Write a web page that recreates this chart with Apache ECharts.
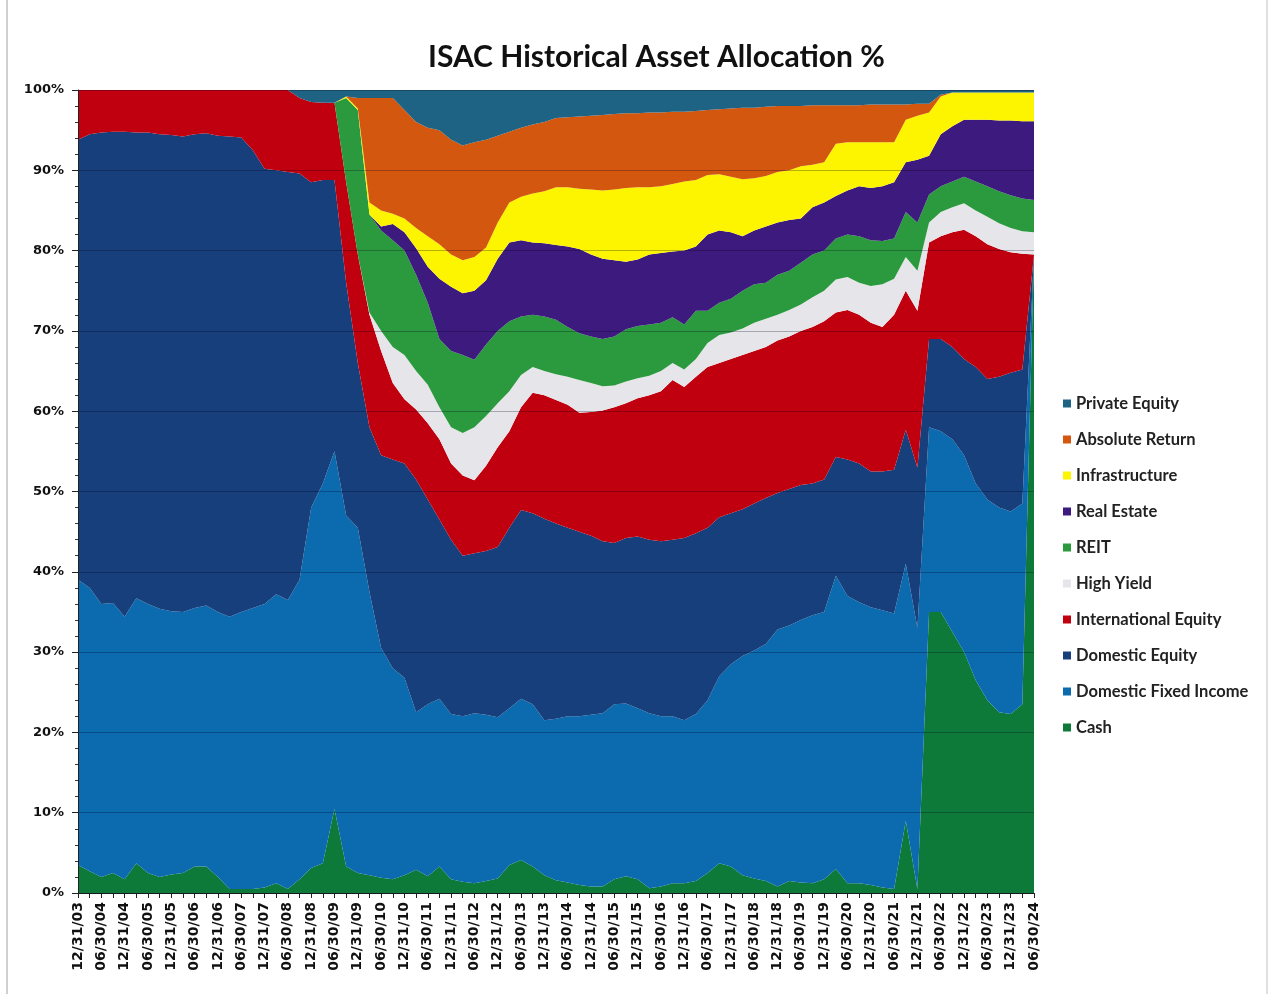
<!DOCTYPE html>
<html>
<head>
<meta charset="utf-8">
<title>ISAC Historical Asset Allocation %</title>
<script src="https://cdn.jsdelivr.net/npm/echarts@6/dist/echarts.min.js"></script>
<style>
    html, body { margin: 0; padding: 0; background: #fff; }
    #container { width: 1270px; height: 994px; }
</style>
</head>
<body>
<div id="container"></div>
<script>
// quarter ends, labels shown every 6 months
var dates = [
    '12/31/03',
    '03/31/04', '06/30/04', '09/30/04', '12/31/04',
    '03/31/05', '06/30/05', '09/30/05', '12/31/05',
    '03/31/06', '06/30/06', '09/30/06', '12/31/06',
    '03/31/07', '06/30/07', '09/30/07', '12/31/07',
    '03/31/08', '06/30/08', '09/30/08', '12/31/08',
    '03/31/09', '06/30/09', '09/30/09', '12/31/09',
    '03/31/10', '06/30/10', '09/30/10', '12/31/10',
    '03/31/11', '06/30/11', '09/30/11', '12/31/11',
    '03/31/12', '06/30/12', '09/30/12', '12/31/12',
    '03/31/13', '06/30/13', '09/30/13', '12/31/13',
    '03/31/14', '06/30/14', '09/30/14', '12/31/14',
    '03/31/15', '06/30/15', '09/30/15', '12/31/15',
    '03/31/16', '06/30/16', '09/30/16', '12/31/16',
    '03/31/17', '06/30/17', '09/30/17', '12/31/17',
    '03/31/18', '06/30/18', '09/30/18', '12/31/18',
    '03/31/19', '06/30/19', '09/30/19', '12/31/19',
    '03/31/20', '06/30/20', '09/30/20', '12/31/20',
    '03/31/21', '06/30/21', '09/30/21', '12/31/21',
    '03/31/22', '06/30/22', '09/30/22', '12/31/22',
    '03/31/23', '06/30/23', '09/30/23', '12/31/23',
    '03/31/24', '06/30/24',
]

var yTicks = [0, 10, 20, 30, 40, 50, 60, 70, 80, 90, 100]

// % of total, per quarter
var cash = [
    3.5, 2.7, 2, 2.5, 1.7, 3.7, 2.5, 2, 2.3, 2.5, 3.3, 3.3, 2, 0.5, 0.5, 0.5, 0.7, 1.2, 0.5, 1.7, 3.1, 3.7, 10.5,
    3.3, 2.5, 2.2, 1.9, 1.7, 2.2, 2.9, 2.1, 3.3, 1.7, 1.4, 1.2, 1.5, 1.8, 3.5, 4.1, 3.3, 2.2, 1.6, 1.3, 1, 0.8, 0.8, 1.7, 2.1, 1.7, 0.6, 0.8, 1.2, 1.2, 1.5,
    2.5, 3.7, 3.3, 2.2, 1.8, 1.5, 0.8, 1.5, 1.3, 1.2, 1.7, 3, 1.2, 1.2, 1, 0.7, 0.5, 9, 0.5, 35, 35, 32.5, 30, 26.5, 24, 22.5, 22.3, 23.5, 79.5,
]
var domesticFixedIncome = [
    35.5, 35.3, 34, 33.6, 32.7, 33, 33.5, 33.4, 32.8, 32.5, 32.2, 32.5, 33, 33.9, 34.5, 35, 35.3, 36, 36, 37.3, 44.9, 47.3, 44.5,
    43.7, 43, 35.3, 28.6, 26.3, 24.6, 19.6, 21.4, 20.9, 20.6, 20.6, 21.2, 20.7, 20.1, 19.5, 20.1, 20.2, 19.3, 20.1, 20.7, 21, 21.4, 21.6, 21.8, 21.5, 21.3, 21.8, 21.2, 20.8, 20.3, 20.8,
    21.5, 23.3, 25.2, 27.3, 28.4, 29.5, 32, 31.8, 32.7, 33.4, 33.3, 36.5, 35.8, 35, 34.6, 34.5, 34.3, 32, 32.5, 23, 22.5, 24, 24.5, 24.5, 25, 25.5, 25.2, 25, 0,
]
var domesticEquity = [
    54.8, 56.5, 58.7, 58.7, 60.4, 58, 58.7, 59.1, 59.3, 59.2, 59, 58.8, 59.3, 59.8, 59.1, 57, 54.2, 52.8, 53.3, 50.6, 40.5, 37.8, 33.8,
    29, 20.5, 20.5, 24, 26, 26.7, 29, 25.5, 22.3, 21.7, 20, 19.9, 20.4, 21.2, 22.5, 23.5, 23.8, 25.1, 24.3, 23.5, 23, 22.3, 21.4, 20.1, 20.6, 21.4, 21.6, 21.8, 22, 22.7, 22.5,
    21.5, 19.8, 18.8, 18.3, 18.3, 18.2, 17, 17, 16.8, 16.4, 16.5, 14.8, 17, 17.3, 16.9, 17.3, 17.9, 16.7, 20, 11, 11.5, 11.5, 12, 14.5, 15, 16.3, 17.3, 16.7, 0,
]
var internationalEquity = [
    6.2, 5.5, 5.3, 5.2, 5.2, 5.3, 5.3, 5.5, 5.6, 5.8, 5.5, 5.4, 5.7, 5.8, 5.9, 7.5, 9.8, 10, 10.2, 9.4, 10, 9.6, 9.6,
    12.5, 13.5, 14, 13, 9.5, 8, 8.7, 9.5, 10, 9.5, 10, 9.1, 10.6, 12.4, 12, 12.8, 15, 15.4, 15.4, 15.3, 14.8, 15.4, 16.3, 16.9, 16.8, 17.2, 18, 18.7, 19.9, 18.8, 19.5,
    20, 19.2, 19.2, 19.2, 19, 18.8, 19, 19, 19.2, 19.5, 19.7, 18, 18.6, 18.5, 18.5, 18, 19.3, 17.3, 19.5, 12, 12.8, 14.3, 16.1, 16.3, 16.8, 15.9, 15, 14.4, 0,
]
var highYield = [
    0, 0, 0, 0, 0, 0, 0, 0, 0, 0, 0, 0, 0, 0, 0, 0, 0, 0, 0, 0, 0, 0, 0,
    0, 0, 0.3, 2.5, 4.5, 5.5, 4.8, 4.8, 4, 4.5, 5.3, 6.6, 6.2, 5.5, 5, 4, 3.2, 3, 3.2, 3.5, 4.1, 3.6, 3, 2.7, 2.7, 2.5, 2.4, 2.5, 2.1, 2.2, 2.2,
    3, 3.5, 3.3, 3.3, 3.5, 3.5, 3.2, 3.3, 3.3, 3.7, 3.8, 4.1, 4.1, 4, 4.6, 5.3, 4.5, 4.2, 5, 2.5, 3, 3.1, 3.3, 3.2, 3.4, 3.2, 3, 2.8, 2.8,
]
var reit = [
    0, 0, 0, 0, 0, 0, 0, 0, 0, 0, 0, 0, 0, 0, 0, 0, 0, 0, 0, 0, 0, 0, 0,
    10.5, 18, 12.2, 12.5, 13.3, 13, 12, 10.2, 8.5, 9.5, 9.7, 8.4, 8.9, 9, 8.7, 7.3, 6.5, 6.8, 6.8, 6.2, 5.8, 5.8, 5.9, 6.1, 6.5, 6.5, 6.4, 6, 5.7, 5.6, 6,
    4, 4, 4.2, 4.7, 4.8, 4.5, 5, 4.9, 5.2, 5.3, 5, 5.1, 5.3, 5.8, 5.7, 5.4, 5, 5.6, 6, 3.5, 3.2, 3.2, 3.3, 3.6, 3.8, 4, 4.1, 4.1, 4,
]
var realEstate = [
    0, 0, 0, 0, 0, 0, 0, 0, 0, 0, 0, 0, 0, 0, 0, 0, 0, 0, 0, 0, 0, 0, 0,
    0, 0, 0, 0.5, 2, 2.3, 3.3, 4.5, 7.5, 8, 7.7, 8.6, 8, 9, 9.8, 9.5, 9, 9.1, 9.3, 10, 10.5, 10.2, 10, 9.5, 8.4, 8.3, 8.7, 8.7, 8.2, 9.2, 8,
    9.5, 9, 8.3, 6.8, 6.7, 7, 6.5, 6.3, 5.5, 5.9, 6, 5.3, 5.5, 6.2, 6.5, 6.8, 7, 6.2, 7.8, 4.8, 6.5, 6.9, 7.1, 7.7, 8.3, 8.8, 9.3, 9.6, 9.8,
]
var infrastructure = [
    0, 0, 0, 0, 0, 0, 0, 0, 0, 0, 0, 0, 0, 0, 0, 0, 0, 0, 0, 0, 0, 0, 0,
    0.2, 0.2, 1.5, 2, 1.3, 1.7, 2.5, 3.8, 4.3, 4, 4.1, 4.2, 4.1, 4.5, 5, 5.4, 6.1, 6.5, 7.2, 7.4, 7.5, 8.1, 8.5, 8.8, 9.2, 9, 8.4, 8.3, 8.4, 8.6, 8.3,
    7.4, 7, 6.9, 7.1, 6.5, 6.3, 6.3, 6.2, 6.5, 5.3, 5, 6.5, 6, 5.5, 5.7, 5.5, 5, 5.3, 5.5, 5.4, 4.7, 4.2, 3.4, 3.4, 3.4, 3.5, 3.5, 3.6, 3.6,
]
var absoluteReturn = [
    0, 0, 0, 0, 0, 0, 0, 0, 0, 0, 0, 0, 0, 0, 0, 0, 0, 0, 0, 0, 0, 0, 0,
    0, 1.3, 13, 14, 14.4, 13.5, 13.2, 13.5, 14.2, 14.3, 14.3, 14.3, 13.4, 10.8, 8.8, 8.6, 8.6, 8.6, 8.6, 8.7, 9, 9.2, 9.4, 9.4, 9.3, 9.2, 9.3, 9.2, 9, 8.7, 8.6,
    8.1, 8.1, 8.5, 8.9, 8.8, 8.6, 8.2, 8, 7.5, 7.4, 7.1, 4.8, 4.6, 4.6, 4.7, 4.7, 4.7, 1.9, 1.5, 1.1, 0.2, 0, 0, 0, 0, 0, 0, 0, 0,
]
var privateEquity = [
    0, 0, 0, 0, 0, 0, 0, 0, 0, 0, 0, 0, 0, 0, 0, 0, 0, 0, 0, 1, 1.5, 1.6, 1.6,
    0.8, 1, 1, 1, 1, 2.5, 4, 4.7, 5, 6.2, 6.9, 6.5, 6.2, 5.7, 5.2, 4.7, 4.3, 4, 3.5, 3.4, 3.3, 3.2, 3.1, 3, 2.9, 2.9, 2.8, 2.8, 2.7, 2.7, 2.6,
    2.5, 2.4, 2.3, 2.2, 2.2, 2.1, 2, 2, 2, 1.9, 1.9, 1.9, 1.9, 1.9, 1.8, 1.8, 1.8, 1.8, 1.7, 1.7, 0.6, 0.3, 0.3, 0.3, 0.3, 0.3, 0.3, 0.3, 0.3,
]

// bottom of the stack first
var layers = [
    { name: 'Cash', data: cash, color: '#0e7a3a' },
    { name: 'Domestic Fixed Income', data: domesticFixedIncome, color: '#0b6bae' },
    { name: 'Domestic Equity', data: domesticEquity, color: '#163f7c' },
    { name: 'International Equity', data: internationalEquity, color: '#c0000f' },
    { name: 'High Yield', data: highYield, color: '#e6e6ea' },
    { name: 'REIT', data: reit, color: '#2b9a3e' },
    { name: 'Real Estate', data: realEstate, color: '#3c1a7e' },
    { name: 'Infrastructure', data: infrastructure, color: '#fdf500' },
    { name: 'Absolute Return', data: absoluteReturn, color: '#d4570f' },
    { name: 'Private Equity', data: privateEquity, color: '#1f6384' },
]

var axisFont = 'DejaVu Sans'

var makeSeries = function (layers) {
    var res = []
    for (var i = 0; i < layers.length; i++) {
        var l = layers[i]
        res.push({
            name: l.name,
            type: 'line',
            stack: 'total',
            data: l.data,
            showSymbol: false,
            symbol: 'none',
            lineStyle: { width: 0 },
            itemStyle: { color: l.color },
            areaStyle: { color: l.color, opacity: 1 },
            emphasis: { disabled: true },
        })
    }
    return res
}

var legendNames = layers.map(function (l) { return l.name }).reverse()

var chartInit = function () {
    var dom = document.getElementById('container')
    var myChart = echarts.init(dom, null, { renderer: 'canvas' })

    var option = {
        backgroundColor: '#ffffff',
        animation: false,
        title: {
            text: 'ISAC Historical Asset Allocation %',
            left: 423,
            top: 37,
            textStyle: {
                fontFamily: 'Lato',
                fontSize: 30,
                fontWeight: 'bold',
                color: '#111',
            },
        },
        legend: {
            data: legendNames,
            orient: 'vertical',
            left: 1058,
            top: 390,
            itemGap: 19,
            itemWidth: 8,
            itemHeight: 8,
            icon: 'rect',
            selectedMode: false,
            textStyle: {
                fontFamily: 'Lato',
                fontSize: 16.5,
                fontWeight: 'bold',
                color: '#222',
                lineHeight: 16,
            },
        },
        grid: {
            left: 78,
            right: 236,
            top: 90,
            bottom: 101,
            containLabel: false,
        },
        xAxis: {
            type: 'category',
            data: dates,
            boundaryGap: false,
            axisLine: { show: true, lineStyle: { color: '#222', width: 1 } },
            axisTick: { show: true, interval: 0, length: 5, lineStyle: { color: '#222' } },
            axisLabel: {
                interval: 1,
                rotate: 90,
                margin: 9,
                fontFamily: axisFont,
                fontWeight: 'bold',
                fontSize: 14,
                color: '#111',
            },
            splitLine: { show: false },
        },
        yAxis: {
            type: 'value',
            min: yTicks[0],
            max: yTicks[yTicks.length - 1],
            interval: 10,
            z: 10,
            axisLine: { show: true, lineStyle: { color: '#222', width: 1 } },
            axisTick: { show: true, length: 6, lineStyle: { color: '#222' } },
            minorTick: { show: true, splitNumber: 5, length: 3, lineStyle: { color: '#333' } },
            axisLabel: {
                formatter: '{value}%',
                margin: 14,
                fontFamily: axisFont,
                fontWeight: 'bold',
                fontSize: 13,
                color: '#111',
            },
            splitLine: { show: true, lineStyle: { color: 'rgba(0,0,30,0.28)', width: 1 } },
        },
        graphic: [
            { type: 'line', shape: { x1: 7, y1: 0, x2: 7, y2: 994 }, style: { stroke: '#a0a0a0', lineWidth: 1 } },
            { type: 'line', shape: { x1: 1267, y1: 0, x2: 1267, y2: 994 }, style: { stroke: '#c0c0c0', lineWidth: 1 } },
        ],
        series: makeSeries(layers),
    }

    myChart.setOption(option, true)
}

chartInit()
</script>
</body>
</html>
